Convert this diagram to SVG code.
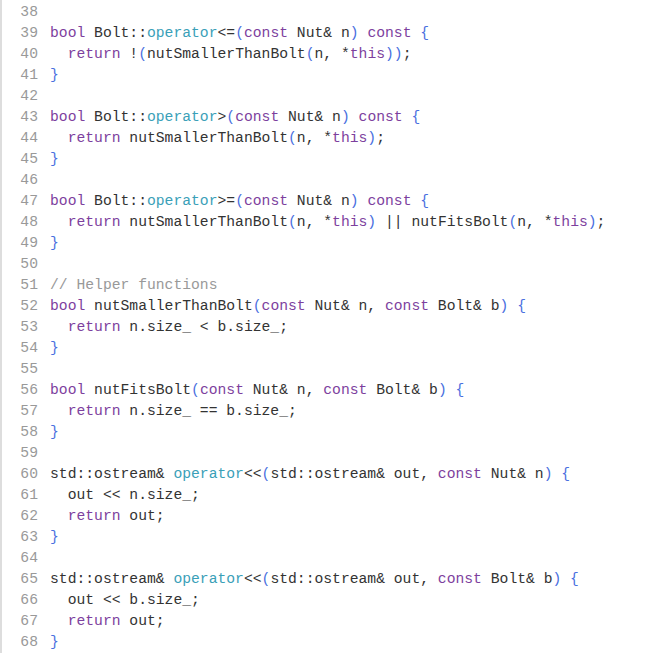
<svg xmlns="http://www.w3.org/2000/svg" width="665" height="653" viewBox="0 0 665 653">
<style>
text{font-family:"Liberation Mono","DejaVu Sans Mono",monospace;font-size:14.7px;fill:#333;white-space:pre}
.n{fill:#999;text-anchor:end}
.k{fill:#7d3f9e}
.o{fill:#3aa0b8}
.p{fill:#4a6fe0}
.c{fill:#999}
</style>
<rect width="665" height="653" fill="#fff"/>
<rect x="0" y="0" width="2" height="653" fill="#ddd"/>
<g id="nums">
<text class="n" x="38" y="16">38</text>
<text class="n" x="38" y="37">39</text>
<text class="n" x="38" y="58">40</text>
<text class="n" x="38" y="79">41</text>
<text class="n" x="38" y="100">42</text>
<text class="n" x="38" y="121">43</text>
<text class="n" x="38" y="142">44</text>
<text class="n" x="38" y="163">45</text>
<text class="n" x="38" y="184">46</text>
<text class="n" x="38" y="205">47</text>
<text class="n" x="38" y="226">48</text>
<text class="n" x="38" y="247">49</text>
<text class="n" x="38" y="268">50</text>
<text class="n" x="38" y="289">51</text>
<text class="n" x="38" y="310">52</text>
<text class="n" x="38" y="331">53</text>
<text class="n" x="38" y="352">54</text>
<text class="n" x="38" y="373">55</text>
<text class="n" x="38" y="394">56</text>
<text class="n" x="38" y="415">57</text>
<text class="n" x="38" y="436">58</text>
<text class="n" x="38" y="457">59</text>
<text class="n" x="38" y="478">60</text>
<text class="n" x="38" y="499">61</text>
<text class="n" x="38" y="520">62</text>
<text class="n" x="38" y="541">63</text>
<text class="n" x="38" y="562">64</text>
<text class="n" x="38" y="583">65</text>
<text class="n" x="38" y="604">66</text>
<text class="n" x="38" y="625">67</text>
<text class="n" x="38" y="646">68</text>
</g>
<g id="code">
<text x="50" y="37"><tspan class="k">bool</tspan> Bolt::<tspan class="o">operator</tspan>&lt;=<tspan class="p">(</tspan><tspan class="k">const</tspan> Nut&amp; n<tspan class="p">)</tspan> <tspan class="k">const</tspan> <tspan class="p">{</tspan></text>
<text x="50" y="58">  <tspan class="k">return</tspan> !<tspan class="p">(</tspan>nutSmallerThanBolt<tspan class="p">(</tspan>n, *<tspan class="k">this</tspan><tspan class="p">))</tspan>;</text>
<text x="50" y="79"><tspan class="p">}</tspan></text>
<text x="50" y="121"><tspan class="k">bool</tspan> Bolt::<tspan class="o">operator</tspan>&gt;<tspan class="p">(</tspan><tspan class="k">const</tspan> Nut&amp; n<tspan class="p">)</tspan> <tspan class="k">const</tspan> <tspan class="p">{</tspan></text>
<text x="50" y="142">  <tspan class="k">return</tspan> nutSmallerThanBolt<tspan class="p">(</tspan>n, *<tspan class="k">this</tspan><tspan class="p">)</tspan>;</text>
<text x="50" y="163"><tspan class="p">}</tspan></text>
<text x="50" y="205"><tspan class="k">bool</tspan> Bolt::<tspan class="o">operator</tspan>&gt;=<tspan class="p">(</tspan><tspan class="k">const</tspan> Nut&amp; n<tspan class="p">)</tspan> <tspan class="k">const</tspan> <tspan class="p">{</tspan></text>
<text x="50" y="226">  <tspan class="k">return</tspan> nutSmallerThanBolt<tspan class="p">(</tspan>n, *<tspan class="k">this</tspan><tspan class="p">)</tspan> || nutFitsBolt<tspan class="p">(</tspan>n, *<tspan class="k">this</tspan><tspan class="p">)</tspan>;</text>
<text x="50" y="247"><tspan class="p">}</tspan></text>
<text x="50" y="289" class="c">// Helper functions</text>
<text x="50" y="310"><tspan class="k">bool</tspan> nutSmallerThanBolt<tspan class="p">(</tspan><tspan class="k">const</tspan> Nut&amp; n, <tspan class="k">const</tspan> Bolt&amp; b<tspan class="p">)</tspan> <tspan class="p">{</tspan></text>
<text x="50" y="331">  <tspan class="k">return</tspan> n.size_ &lt; b.size_;</text>
<text x="50" y="352"><tspan class="p">}</tspan></text>
<text x="50" y="394"><tspan class="k">bool</tspan> nutFitsBolt<tspan class="p">(</tspan><tspan class="k">const</tspan> Nut&amp; n, <tspan class="k">const</tspan> Bolt&amp; b<tspan class="p">)</tspan> <tspan class="p">{</tspan></text>
<text x="50" y="415">  <tspan class="k">return</tspan> n.size_ == b.size_;</text>
<text x="50" y="436"><tspan class="p">}</tspan></text>
<text x="50" y="478">std::ostream&amp; <tspan class="o">operator</tspan>&lt;&lt;<tspan class="p">(</tspan>std::ostream&amp; out, <tspan class="k">const</tspan> Nut&amp; n<tspan class="p">)</tspan> <tspan class="p">{</tspan></text>
<text x="50" y="499">  out &lt;&lt; n.size_;</text>
<text x="50" y="520">  <tspan class="k">return</tspan> out;</text>
<text x="50" y="541"><tspan class="p">}</tspan></text>
<text x="50" y="583">std::ostream&amp; <tspan class="o">operator</tspan>&lt;&lt;<tspan class="p">(</tspan>std::ostream&amp; out, <tspan class="k">const</tspan> Bolt&amp; b<tspan class="p">)</tspan> <tspan class="p">{</tspan></text>
<text x="50" y="604">  out &lt;&lt; b.size_;</text>
<text x="50" y="625">  <tspan class="k">return</tspan> out;</text>
<text x="50" y="646"><tspan class="p">}</tspan></text>
</g>
</svg>
